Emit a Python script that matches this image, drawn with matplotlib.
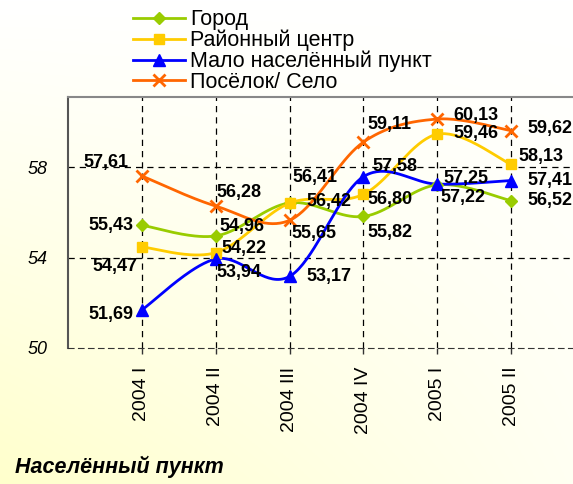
import numpy as np
import matplotlib
matplotlib.use("Agg")
import matplotlib.pyplot as plt
from matplotlib.lines import Line2D

categories = ["2004 I", "2004 II", "2004 III", "2004 IV", "2005 I", "2005 II"]
series_names = ["Город", "Районный центр", "Мало населённый пункт", "Посёлок/ Село"]
gorod = [55.43, 54.96, 56.42, 55.82, 57.22, 56.52]
rayon = [54.47, 54.22, 56.41, 56.80, 59.46, 58.13]
malo = [51.69, 53.94, 53.17, 57.58, 57.25, 57.41]
posyolok = [57.61, 56.28, 55.65, 59.11, 60.13, 59.62]
yticks = [50, 54, 58]

colors = ["#99CC00", "#FFCC00", "#0000FF", "#FF6600"]
markers = ["D", "s", "^", "x"]
msizes = [6, 7.5, 8, 8]

# label offsets in pixels (dx, dy, ha)
offsets = [
    [(-9, 0, "right"), (4, 9, "left"), (17, 1, "left"), (4, -16, "left"), (3, -13, "left"), (16, 0, "left")],
    [(-5, -20, "right"), (6, 4, "left"), (3, 26, "left"), (4, -5, "left"), (16, 1, "left"), (7, 8, "left")],
    [(-9, -5, "right"), (1, -14, "left"), (17, 0, "left"), (9, 10, "left"), (6, 6, "left"), (16, 0, "left")],
    [(-14, 14, "right"), (1, 14, "left"), (2, -13, "left"), (4, 18, "left"), (16, 4, "left"), (16, 2, "left")],
]

def smooth(xs, ys, n=40):
    xs = np.asarray(xs, float); ys = np.asarray(ys, float)
    P = np.column_stack([xs, ys])
    out = []
    m = len(P)
    for i in range(m - 1):
        p0 = P[i - 1] if i > 0 else P[i]
        p1 = P[i]; p2 = P[i + 1]
        p3 = P[i + 2] if i + 2 < m else P[i + 1]
        c1 = p1 + (p2 - p0) / 6.0
        c2 = p2 - (p3 - p1) / 6.0
        t = np.linspace(0, 1, n)[:, None]
        seg = (1 - t) ** 3 * p1 + 3 * (1 - t) ** 2 * t * c1 + 3 * (1 - t) * t ** 2 * c2 + t ** 3 * p2
        out.append(seg if i == 0 else seg[1:])
    out = np.vstack(out)
    return out[:, 0], out[:, 1]

W, H = 573, 484
fig = plt.figure(figsize=(W / 100, H / 100), dpi=100)

# background gradient: white at top / right, pale yellow at bottom-left
bg = fig.add_axes([0, 0, 1, 1], zorder=-10)
gx, gy = np.meshgrid(np.linspace(0, 1, 200), np.linspace(0, 1, 200))  # gy: 0 top, 1 bottom
t = np.clip(gy ** 1.1 * (1 - 0.75 * gx), 0, 1)
img = np.ones((200, 200, 3))
img[..., 2] = 1 - 0.2 * t
bg.imshow(img, origin="upper", extent=[0, 1, 0, 1], aspect="auto")
bg.axis("off")

px0, px1 = 68.2, 68.2 + 7 * 73.8
py0, py1 = 348, 97
ax = fig.add_axes([px0 / W, (H - py0) / H, (px1 - px0) / W, (py0 - py1) / H])
ax.patch.set_alpha(0)
x = np.arange(len(categories))
ax.set_xlim(-1, 6)
ax.set_ylim(50, 50 + (py0 - py1) / 22.6)

for xv in x:
    ax.axvline(xv, color="black", lw=0.9, ls=(0, (5, 4)), zorder=1)
for yv in yticks[1:]:
    ax.axhline(yv, color="black", lw=0.9, ls=(0, (5, 4)), zorder=1)

all_series = [gorod, rayon, malo, posyolok]
for s, c, mk, ms, offs in zip(all_series, colors, markers, msizes, offsets):
    sx, sy = smooth(x, s)
    ax.plot(sx, sy, color=c, lw=2, zorder=3, solid_capstyle="round")
    ax.plot(x, s, ls="none", marker=mk, color=c, ms=ms, mew=2 if mk == "x" else 1, zorder=4)
    for xi, v, (dx, dy, ha) in zip(x, s, offs):
        ax.annotate(f"{v:.2f}".replace(".", ","), (xi, v), xytext=(dx, dy), textcoords="offset pixels",
                    ha=ha, va="center", fontsize=13, fontweight="bold", family="Liberation Sans", zorder=5)

ax.set_xticks(x)
ax.set_xticklabels(categories, rotation=90, fontsize=14, family="Liberation Sans")
ax.set_yticks(yticks)
ax.set_yticklabels([str(v) for v in yticks], fontsize=13, style="italic", family="Liberation Sans")
ax.tick_params(axis="y", length=0, pad=15)
ax.tick_params(axis="x", length=4, width=1, color="#333333", pad=9.5, direction="out")
ax.spines["right"].set_visible(False)
ax.spines["left"].set_color("#555555")
ax.spines["left"].set_linewidth(1.5)
ax.spines["top"].set_color("#888888")
ax.spines["top"].set_linewidth(1.5)
ax.spines["bottom"].set_linestyle((0, (5, 4)))
ax.spines["bottom"].set_color("#333333")

handles = [Line2D([], [], color=c, lw=2, marker=mk, ms=ms, mew=2 if mk == "x" else 1)
           for c, mk, ms in zip(colors, markers, msizes)]
fig.legend(handles, series_names, loc="upper left", bbox_to_anchor=(118 / W, 1 + 6 / H),
           frameon=False, handlelength=2.4, handletextpad=0.25, labelspacing=-0.02,
           borderpad=0.2, prop={"family": "Liberation Sans", "size": 15.5})

fig.text(15 / W, 1 - 467 / H, "Населённый пункт", fontsize=15.5, fontweight="bold", style="italic",
         family="Liberation Sans", va="center", ha="left")

fig.savefig("out.png", dpi=100)
